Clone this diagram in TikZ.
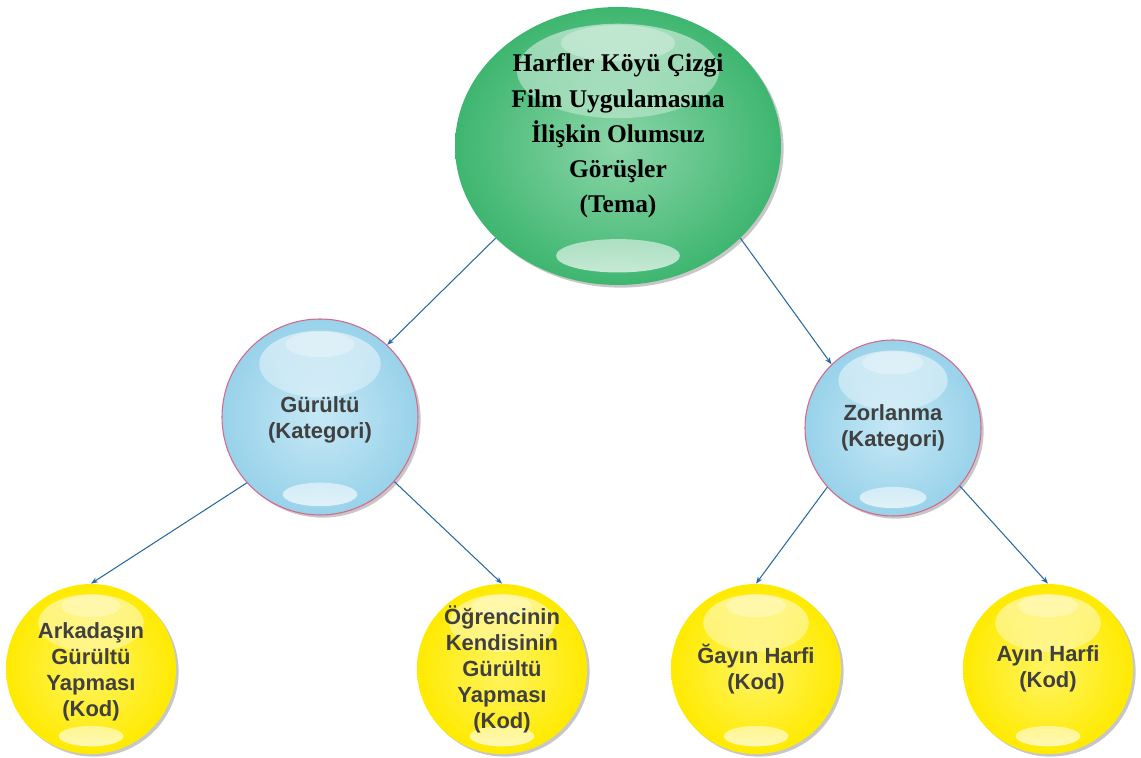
\documentclass[tikz,border=0pt]{standalone}
\usepackage{fontspec}
\setmainfont{Liberation Serif}
\setsansfont{Liberation Sans}
\usetikzlibrary{arrows.meta,shapes.geometric,shadows,fadings}
\definecolor{temagreen}{RGB}{62,182,112}
\definecolor{temalight}{RGB}{140,214,168}
\definecolor{katblue}{RGB}{152,210,234}
\definecolor{katlight}{RGB}{198,232,245}
\definecolor{katrim}{RGB}{214,104,140}
\definecolor{kodyellow}{RGB}{255,234,0}
\definecolor{kodlight}{RGB}{255,244,100}
\definecolor{linkblue}{RGB}{40,105,165}
\definecolor{textgray}{RGB}{64,64,64}
\begin{document}
\begin{tikzpicture}[
  glossy/.style 2 args={ellipse, minimum width=2*#1, minimum height=2*#2, inner sep=0pt,
    general shadow={fill=black!22, shadow xshift=1.5pt, shadow yshift=-1.5pt},
    path picture={
      \fill[white, opacity=.55, path fading=south] (path picture bounding box.center) ++(0,0.54*#2)
        ellipse [x radius=0.62*#1, y radius=0.34*#2];
      \fill[white, opacity=.3] (path picture bounding box.center) ++(0,0.74*#2)
        ellipse [x radius=0.35*#1, y radius=0.13*#2];
      \fill[white, opacity=.7, path fading=north] (path picture bounding box.center) ++(0,-0.79*#2)
        ellipse [x radius=0.38*#1, y radius=0.12*#2];
    }},
  tema/.style={glossy={3.26cm}{2.78cm}, inner color=temalight, outer color=temagreen},
  kat/.style={glossy={#1}{#1}, draw=katrim, line width=.6pt, inner color=katlight, outer color=katblue},
  kod/.style={glossy={1.70cm}{1.70cm}, inner color=kodlight, outer color=kodyellow},
  tematext/.style={font=\bfseries\fontsize{14.5}{20}\selectfont, align=center, text=black},
  kodtext/.style={font=\sffamily\bfseries\fontsize{12.5}{14.8}\selectfont, align=center, text=textgray},
  link/.style={-{Stealth[length=4pt,width=3pt]}, draw=linkblue, line width=.6pt}]
\useasboundingbox (0,0) rectangle (22.82,15.16);
\node (tema) at (12.36,12.24) [tema, label={[tematext, yshift=0.2cm]center:Harfler Köyü Çizgi\\Film Uygulamasına\\İlişkin Olumsuz\\Görüşler\\(Tema)}] {};
\node (gur) at (6.40,6.82) [kat=1.96cm, label={[kodtext, yshift=-0.06cm]center:Gürültü\\(Kategori)}] {};
\node (zor) at (17.86,6.60) [kat=1.76cm, label={[kodtext]center:Zorlanma\\(Kategori)}] {};
\node (ark) at (1.82,1.78) [kod, label={[kodtext, yshift=-0.06cm]center:Arkadaşın\\Gürültü\\Yapması\\(Kod)}] {};
\node (ogr) at (10.04,1.78) [kod, label={[kodtext]center:Öğrencinin\\Kendisinin\\Gürültü\\Yapması\\(Kod)}] {};
\node (gay) at (15.12,1.78) [kod, label={[kodtext]center:Ğayın Harfi\\(Kod)}] {};
\node (ayin) at (20.96,1.78) [kod, label={[kodtext]center:Ayın Harfi\\(Kod)}] {};
\draw[link] (tema.217) -- (gur.47);
\draw[link] (tema.323) -- (zor.134);
\draw[link] (gur.222) -- (ark.north);
\draw[link] (gur.319) -- (ogr.north);
\draw[link] (zor.222) -- (gay.north);
\draw[link] (zor.319) -- (ayin.north);
\end{tikzpicture}
\end{document}
